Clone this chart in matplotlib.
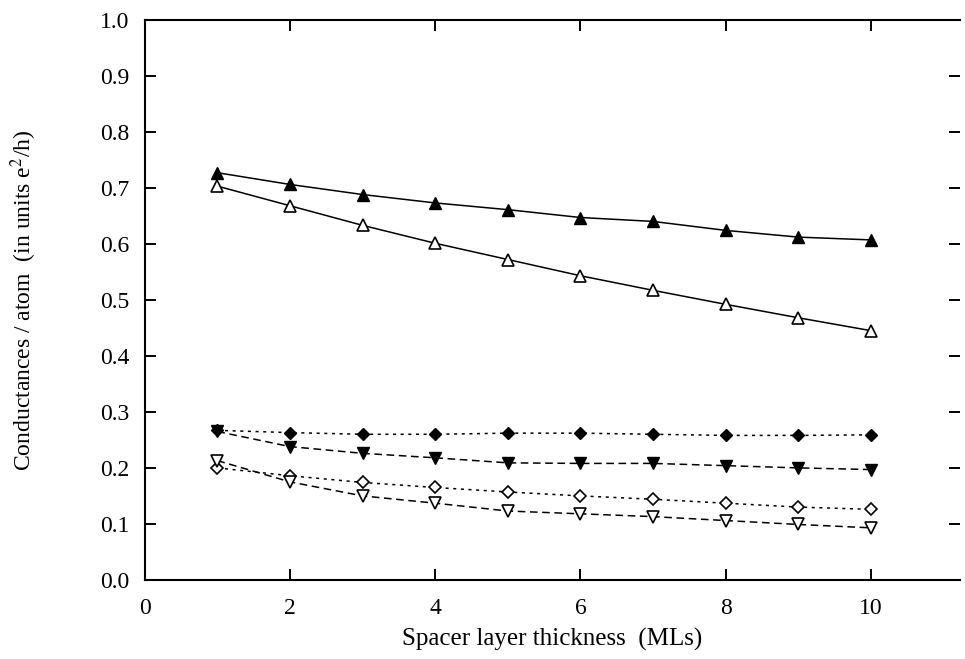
"""Conductance per atom versus spacer layer thickness."""

import matplotlib

matplotlib.use("Agg")

import matplotlib.pyplot as plt

thickness = [1, 2, 3, 4, 5, 6, 7, 8, 9, 10]

up_filled = [0.727, 0.706, 0.688, 0.673, 0.661, 0.647, 0.640, 0.624, 0.612, 0.607]
up_open = [0.703, 0.668, 0.633, 0.601, 0.572, 0.543, 0.517, 0.492, 0.468, 0.445]
diamond_filled = [0.267, 0.263, 0.260, 0.260, 0.262, 0.262, 0.260, 0.258, 0.258, 0.259]
down_filled = [0.265, 0.238, 0.226, 0.218, 0.209, 0.208, 0.208, 0.204, 0.200, 0.197]
diamond_open = [0.200, 0.186, 0.174, 0.165, 0.157, 0.150, 0.144, 0.137, 0.130, 0.126]
down_open = [0.213, 0.175, 0.150, 0.137, 0.123, 0.118, 0.113, 0.106, 0.099, 0.093]

x_ticks = [0, 2, 4, 6, 8, 10]
y_ticks = [0.0, 0.1, 0.2, 0.3, 0.4, 0.5, 0.6, 0.7, 0.8, 0.9, 1.0]

SERIF = ["Liberation Serif", "DejaVu Serif"]
plt.rcParams["font.family"] = SERIF
plt.rcParams["mathtext.fontset"] = "stix"

fig = plt.figure(figsize=(9.65, 6.59), dpi=100)
ax = fig.add_axes([0.150, 0.12, 0.845, 0.85])

ax.plot(thickness, up_filled, "-", color="black", lw=1.1,
        marker="^", ms=8, mfc="black", mec="black")
ax.plot(thickness, up_open, "-", color="black", lw=1.1,
        marker="^", ms=8, mfc="white", mec="black", mew=1.2)
ax.plot(thickness, diamond_filled, color="black", lw=1.1, dashes=(2, 3),
        marker="D", ms=6, mfc="black", mec="black")
ax.plot(thickness, down_filled, color="black", lw=1.1, dashes=(5, 3),
        marker="v", ms=8, mfc="black", mec="black")
ax.plot(thickness, diamond_open, color="black", lw=1.1, dashes=(2, 3),
        marker="D", ms=6, mfc="white", mec="black", mew=1.2)
ax.plot(thickness, down_open, color="black", lw=1.1, dashes=(5, 3),
        marker="v", ms=8, mfc="white", mec="black", mew=1.2)

ax.set_xlim(0, 11.23)
ax.set_ylim(0, 1.0)
ax.set_xticks(x_ticks)
ax.set_xticklabels([str(v) for v in x_ticks], fontfamily=SERIF)
ax.set_yticks(y_ticks)
ax.set_yticklabels([f"{v:.1f}" for v in y_ticks], fontfamily=SERIF)

ax.spines["right"].set_visible(False)
for side in ("left", "bottom", "top"):
    ax.spines[side].set_linewidth(1.5)

ax.tick_params(direction="in", length=8, width=1.4, labelsize=17,
               top=True, right=True)
ax.tick_params(axis="y", pad=11)
ax.tick_params(axis="x", pad=13)

ax.set_xlabel("Spacer layer thickness  (MLs)", fontsize=18,
              va="center", ha="center")
ax.xaxis.set_label_coords(0.5, -0.107)
ax.set_ylabel("Conductances / atom  (in units e$^2$/h)", fontsize=17,
              va="center", ha="center")
ax.yaxis.set_label_coords(-0.148, 0.5)

fig.savefig("out.png", dpi=100)
